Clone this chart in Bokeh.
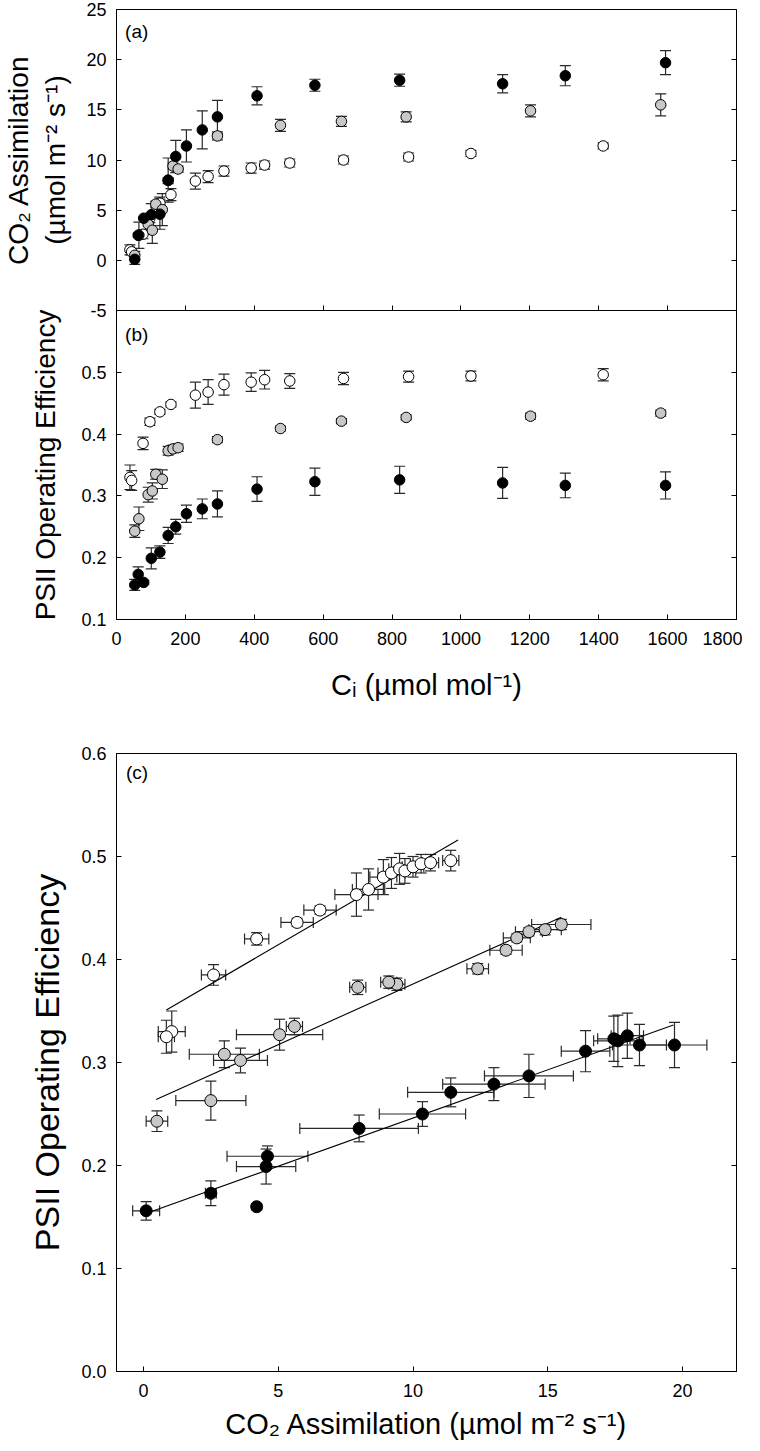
from bokeh.plotting import figure
from bokeh.models import (LinearAxis, FixedTicker, Range1d, Whisker, TeeHead,
                          ColumnDataSource, Label, PrintfTickFormatter)
from bokeh.layouts import column
from bokeh.embed import file_html
from bokeh.resources import INLINE
import numpy as np

# ---------------- data ----------------
# black series
ci_k = [53, 63, 79, 101, 126, 150, 172, 203, 249, 293, 408, 576, 822, 1121, 1303, 1594]
a_k = [0.1, 2.5, 4.2, 4.55, 4.6, 8.0, 10.35, 11.4, 13.0, 14.3, 16.4, 17.45, 17.95, 17.6, 18.4, 19.7]
a_k_err = [0.5, 0.2, 0.1, 1.1, 1.5, 2.2, 1.6, 1.6, 1.9, 1.65, 0.9, 0.6, 0.6, 0.9, 1.0, 1.2]
psii_k = [0.156, 0.173, 0.160, 0.199, 0.209, 0.236, 0.250, 0.271, 0.279, 0.287, 0.311, 0.323, 0.326, 0.321, 0.317, 0.317]
psii_k_err = [0.009, 0.012, 0.003, 0.017, 0.010, 0.013, 0.012, 0.014, 0.016, 0.021, 0.020, 0.022, 0.022, 0.025, 0.020, 0.022]

# grey series
ci_g = [53, 65, 92, 104, 114, 133, 150, 164, 179, 293, 476, 653, 841, 1202, 1580]
a_g = [0.5, 2.5, 3.6, 3.0, 5.6, 5.05, 7.95, 9.4, 9.1, 12.4, 13.45, 13.85, 14.3, 14.9, 15.5]
a_g_err = [0.4, 1.3, 1.0, 1.3, 0.3, 1.6, 0.3, 0.3, 0.3, 0.4, 0.6, 0.5, 0.5, 0.6, 1.1]
psii_g = [0.243, 0.263, 0.302, 0.308, 0.335, 0.327, 0.373, 0.376, 0.378, 0.391, 0.409, 0.421, 0.427, 0.429, 0.434]
psii_g_err = [0.010, 0.019, 0.012, 0.013, 0.008, 0.015, 0.007, 0.006, 0.006, 0.005, 0.004, 0.004, 0.004, 0.005, 0.005]

# open (white) series
ci_o = [39, 44, 77, 97, 126, 158, 229, 266, 312, 391, 430, 503, 659, 848, 1029, 1413]
a_o = [1.05, 0.85, 2.6, 4.2, 5.7, 6.55, 7.9, 8.35, 8.9, 9.2, 9.5, 9.7, 10.0, 10.3, 10.65, 11.4]
a_o_err = [0.5, 0.3, 0.45, 0.45, 0.6, 0.6, 0.8, 0.6, 0.5, 0.5, 0.4, 0.4, 0.4, 0.4, 0.3, 0.3]
psii_o = [0.330, 0.325, 0.385, 0.420, 0.436, 0.448, 0.463, 0.468, 0.480, 0.484, 0.488, 0.486, 0.490, 0.493, 0.494, 0.496]
psii_o_err = [0.020, 0.016, 0.010, 0.006, 0.004, 0.004, 0.021, 0.020, 0.017, 0.015, 0.015, 0.012, 0.010, 0.009, 0.008, 0.010]

# regression lines in panel (c): end points
fit_o_x = [0.85, 11.67]
fit_o_y = [0.351, 0.516]
fit_g_x = [0.47, 15.5]
fit_g_y = [0.264, 0.441]
fit_k_x = [0.04, 19.66]
fit_k_y = [0.153, 0.3365]

ci_ticks = [0, 200, 400, 600, 800, 1000, 1200, 1400, 1600, 1800]
a_ticks = [-5, 0, 5, 10, 15, 20, 25]
psii_ticks_b = [0.1, 0.2, 0.3, 0.4, 0.5]
a_ticks_c = [0, 5, 10, 15, 20]
psii_ticks_c = [0.0, 0.1, 0.2, 0.3, 0.4, 0.5, 0.6]

# ---------------- styling ----------------
FONT = "Liberation Sans"
GREY = "#c8c8c8"
ERR = "#2a2a2a"

series = [
    ("white", ci_o, a_o, a_o_err, psii_o, psii_o_err),
    (GREY, ci_g, a_g, a_g_err, psii_g, psii_g_err),
    ("black", ci_k, a_k, a_k_err, psii_k, psii_k_err),
]


def style_axis(ax, ticks, labels=True, fmt=None, standoff=10):
    ax.ticker = FixedTicker(ticks=ticks)
    ax.major_tick_in = 5
    ax.major_tick_out = 0
    ax.minor_tick_line_color = None
    ax.axis_line_color = "black"
    ax.axis_line_width = 1
    ax.major_tick_line_color = "black"
    ax.major_label_text_font = FONT
    ax.major_label_text_font_size = "18px"
    ax.major_label_text_color = "black"
    ax.major_label_standoff = standoff
    ax.axis_label_text_font = FONT
    ax.axis_label_text_font_style = "normal"
    ax.axis_label_text_color = "black"
    if fmt is not None:
        ax.formatter = fmt
    if not labels:
        # tick marks only: labels are not drawn at all
        ax.major_label_text_font_size = "1px"
        ax.major_label_text_color = None
        ax.major_label_standoff = 0
        ax.axis_label = None


def base_fig(**kw):
    p = figure(output_backend="svg", toolbar_location=None, **kw)
    p.grid.visible = False
    p.outline_line_color = "black"
    p.outline_line_width = 1
    return p


def whisk(p, base, centre, e, dim, cap=11):
    src = ColumnDataSource(dict(base=base, lower=np.array(centre) - np.array(e),
                                upper=np.array(centre) + np.array(e)))
    w = Whisker(source=src, base="base", lower="lower", upper="upper",
                dimension=dim, line_color=ERR, line_width=1.2,
                upper_head=TeeHead(size=cap, line_color=ERR, line_width=1.2),
                lower_head=TeeHead(size=cap, line_color=ERR, line_width=1.2))
    p.add_layout(w)


def panel_label(p, x, y, text):
    p.add_layout(Label(x=x, y=y, text=text, text_font=FONT, text_font_size="19px",
                       text_color="black", text_baseline="top", text_align="left"))


# ---------------- panel (a) ----------------
pa = base_fig(frame_width=620, frame_height=301,
              x_range=Range1d(0, 1800), y_range=Range1d(-5, 25),
              min_border_left=110, min_border_right=12, min_border_top=9, min_border_bottom=10)
pa.background_fill_color = "white"
pa.border_fill_color = "white"
style_axis(pa.yaxis[0], a_ticks, standoff=10)
pa.yaxis[0].major_label_overrides = {-5: "-5"}
pa.yaxis[0].axis_label = "CO\u2082 Assimilation\n(\u00b5mol m\u207b\u00b2 s\u207b\u00b9)"
pa.yaxis[0].axis_label_text_font_size = "28px"
pa.yaxis[0].axis_label_standoff = 12
style_axis(pa.xaxis[0], ci_ticks, labels=False)
ra = LinearAxis()
style_axis(ra, a_ticks, labels=False)
pa.add_layout(ra, "right")

for col, ci, a, ae, ps, pe in series:
    whisk(pa, ci, a, ae, "height")
for col, ci, a, ae, ps, pe in series:
    pa.scatter(ci, a, marker="circle", size=10.5, fill_color=col, line_color="black", line_width=1)
panel_label(pa, 25, 23.9, "(a)")

# ---------------- panel (b) ----------------
# drawn with a transparent border so that it can sit flush under panel (a)
pb = base_fig(frame_width=620, frame_height=309,
              x_range=Range1d(0, 1800), y_range=Range1d(0.1, 0.6),
              min_border_left=110, min_border_right=12, min_border_top=0, min_border_bottom=80)
pb.background_fill_color = None
pb.border_fill_color = None
pb.margin = (-10, 0, 0, 0)
style_axis(pb.yaxis[0], psii_ticks_b, standoff=10)
pb.yaxis[0].axis_label = "PSII Operating Efficiency"
pb.yaxis[0].axis_label_text_font_size = "28px"
pb.yaxis[0].axis_label_standoff = 17
style_axis(pb.xaxis[0], ci_ticks, standoff=12)
pb.xaxis[0].axis_label = "C\u1d62 (\u00b5mol mol\u207b\u00b9)"
pb.xaxis[0].axis_label_text_font_size = "29px"
pb.xaxis[0].axis_label_standoff = 21
rb = LinearAxis()
style_axis(rb, psii_ticks_b, labels=False)
pb.add_layout(rb, "right")

for col, ci, a, ae, ps, pe in series:
    whisk(pb, ci, ps, pe, "height")
for col, ci, a, ae, ps, pe in series:
    pb.scatter(ci, ps, marker="circle", size=10.5, fill_color=col, line_color="black", line_width=1)
panel_label(pb, 25, 0.578, "(b)")

# ---------------- panel (c) ----------------
pc = base_fig(frame_width=620, frame_height=618,
              x_range=Range1d(-1, 22), y_range=Range1d(0, 0.6),
              min_border_left=104, min_border_right=18, min_border_top=50, min_border_bottom=66)
pc.background_fill_color = "white"
pc.border_fill_color = "white"
style_axis(pc.yaxis[0], psii_ticks_c, fmt=PrintfTickFormatter(format="%.1f"), standoff=10)
pc.yaxis[0].axis_label = "PSII Operating Efficiency"
pc.yaxis[0].axis_label_text_font_size = "34px"
pc.yaxis[0].axis_label_standoff = 12
style_axis(pc.xaxis[0], a_ticks_c, standoff=12)
pc.xaxis[0].axis_label = "CO\u2082 Assimilation (\u00b5mol m\u207b\u00b2 s\u207b\u00b9)"
pc.xaxis[0].axis_label_text_font_size = "29px"
pc.xaxis[0].axis_label_standoff = 8
rc = LinearAxis()
style_axis(rc, psii_ticks_c, labels=False)
pc.add_layout(rc, "right")

for fx, fy in [(fit_o_x, fit_o_y), (fit_g_x, fit_g_y), (fit_k_x, fit_k_y)]:
    pc.line(fx, fy, line_color="black", line_width=1.1)
for col, ci, a, ae, ps, pe in series:
    whisk(pc, a, ps, pe, "height")
    whisk(pc, ps, a, ae, "width")
for col, ci, a, ae, ps, pe in series:
    pc.scatter(a, ps, marker="circle", size=12, fill_color=col, line_color="black", line_width=1)
panel_label(pc, -0.65, 0.592, "(c)")

layout = column(pa, pb, pc, spacing=0)
open("out.html", "w").write(file_html(layout, INLINE))
